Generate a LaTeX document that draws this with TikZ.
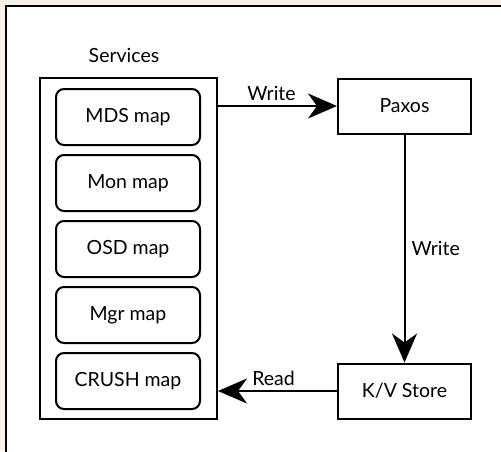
\documentclass[tikz,border=0pt]{standalone}
\usepackage{fontspec}
\setmainfont{Lato}
\usetikzlibrary{arrows.meta}
\definecolor{paper}{HTML}{F9F1E8}
\begin{document}
\begin{tikzpicture}[x=1pt,y=-1pt,line width=2pt,
    font=\fontsize{19.5}{23}\selectfont]
  \tikzstyle{box}=[draw,rectangle,minimum width=133pt,minimum height=55pt,inner sep=0pt]
  \tikzstyle{map}=[draw,rectangle,rounded corners=8pt,minimum width=144pt,minimum height=56pt,inner sep=0pt]
  \tikzstyle{flow}=[-{Stealth[length=29pt,width=25pt,inset=9pt]}]
  \tikzstyle{lbl}=[inner sep=4pt]
  % page frame
  \fill[paper] (0,0) rectangle (501,451);
  \useasboundingbox (0,0) rectangle (501,451);
  \draw[fill=white,line width=1.6pt] (6,6) rectangle (520,470);
  % services column
  \node[draw,rectangle,minimum width=177pt,minimum height=341pt,inner sep=0pt] (services) at (128.5,248.5) {};
  \node (serviceslabel) at (124,55) {Services};
  \node[map] (mds)   at (128,117) {MDS map};
  \node[map] (mon)   at (128,183) {Mon map};
  \node[map] (osd)   at (128,249) {OSD map};
  \node[map] (mgr)   at (128,315) {Mgr map};
  \node[map] (crush) at (128,381) {CRUSH map};
  % storage side
  \node[box] (paxos) at (404.5,106) {Paxos};
  \node[box] (kv)    at (404.5,391) {K/V Store};
  % arrows
  \draw[flow] (services.east |- paxos.west) -- node[lbl,above,xshift=-6pt] (writelabel) {Write} (paxos.west);
  \draw[flow] (paxos.south) -- node[lbl,right,xshift=2pt] (storelabel) {Write} (kv.north);
  \draw[flow] (kv.west) -- node[lbl,above,xshift=-4pt] (readlabel) {Read} (kv.west -| services.east);
\end{tikzpicture}
\end{document}
